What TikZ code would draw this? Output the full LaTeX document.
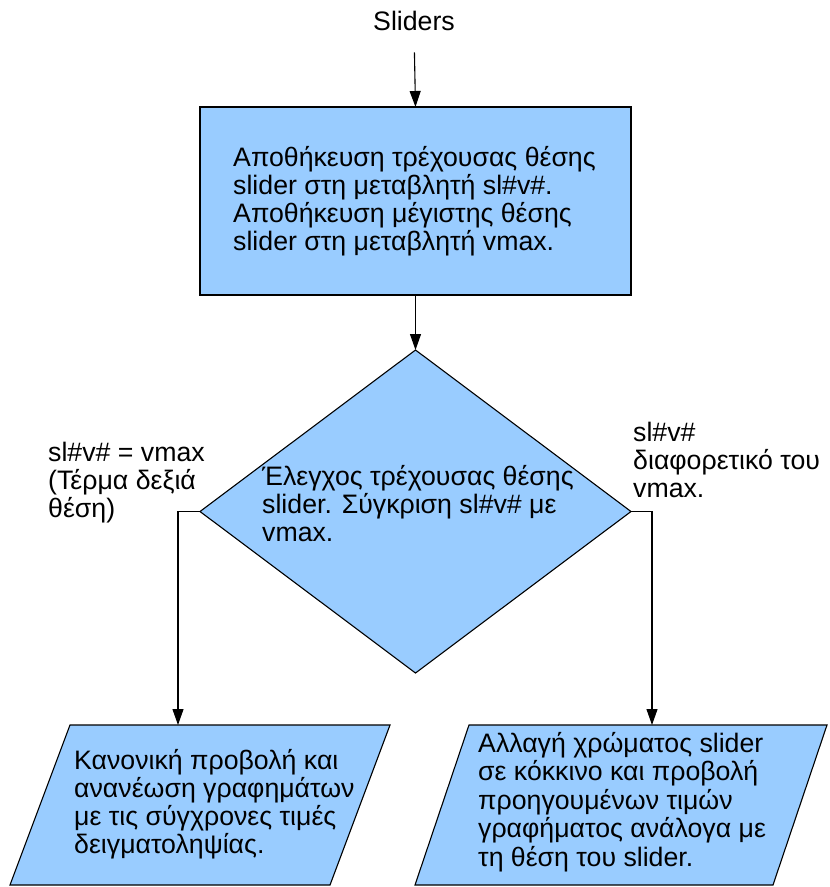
\documentclass[tikz,border=0pt]{standalone}
\usepackage{fontspec}
\setmainfont{Liberation Sans}
\usetikzlibrary{arrows.meta,shapes.geometric}
\definecolor{boxblue}{HTML}{99CCFF}
\begin{document}
\begin{tikzpicture}[x=1pt,y=-1pt,
  shapebox/.style={draw=black, fill=boxblue, line width=1.1pt, inner sep=0pt, outer sep=0pt},
  frame/.style={inner sep=0pt, outer sep=0pt},
  txt/.style={align=left, inner sep=0pt, anchor=base west, font=\fontsize{26.7pt}{27.7pt}\selectfont},
  flow/.style={draw=black, line width=1.1pt, -{Triangle[length=16pt,width=11pt]}}]
\useasboundingbox (0,0) rectangle (830,887);

% title and first process box (text nodes are anchored at the last baseline)
\node[txt, anchor=base] (title) at (414,30) {Sliders};
\node[shapebox, rectangle, minimum width=431pt, minimum height=188pt] (store) at (415.5,201) {};
\node[txt] (storetxt) at (233,250) {Αποθήκευση τρέχουσας θέσης\\slider στη μεταβλητή sl\#v\#.\\Αποθήκευση μέγιστης θέσης\\slider στη μεταβλητή vmax.};

% decision
\node[shapebox, diamond, minimum width=431pt, minimum height=323pt] (check) at (415.5,511.5) {};
\node[txt] (checktxt) at (262,541) {Έλεγχος τρέχουσας θέσης\\slider. Σύγκριση sl\#v\# με\\vmax.};

% branch labels
\node[txt] (yeslbl) at (48,517) {sl\#v\# = vmax\\(Τέρμα δεξιά\\θέση)};
\node[txt] (nolbl) at (633,497) {sl\#v\#\\διαφορετικό του\\vmax.};

% output parallelograms (frames hold the outline)
\node[frame, minimum width=380pt, minimum height=160pt] (normal) at (200,805) {};
\draw[shapebox] (normal.south west) -- ++(320,0) -- (normal.north east) -- ++(-320,0) -- cycle;
\node[txt] (normaltxt) at (74,853) {Κανονική προβολή και\\ανανέωση γραφημάτων\\με τις σύγχρονες τιμές\\δειγματοληψίας.};

\node[frame, minimum width=412pt, minimum height=160pt] (history) at (621,805) {};
\draw[shapebox] (history.south west) -- ++(358,0) -- (history.north east) -- ++(-358,0) -- cycle;
\node[txt, font=\fontsize{26.7pt}{28.5pt}\selectfont] (historytxt) at (478,866) {Αλλαγή χρώματος slider\\σε κόκκινο και προβολή\\προηγουμένων τιμών\\γραφήματος ανάλογα με\\τη θέση του slider.};

% connectors
\draw[flow, shorten <=22pt] (title.south) -- (store.north);
\draw[flow] (store.south) -- (check.north);
\draw[flow] (check.west) -- ++(-22,0) coordinate (lbend) -- (lbend |- normal.north);
\draw[flow] (check.east) -- ++(21,0) coordinate (rbend) -- (rbend |- history.north);
\end{tikzpicture}
\end{document}
